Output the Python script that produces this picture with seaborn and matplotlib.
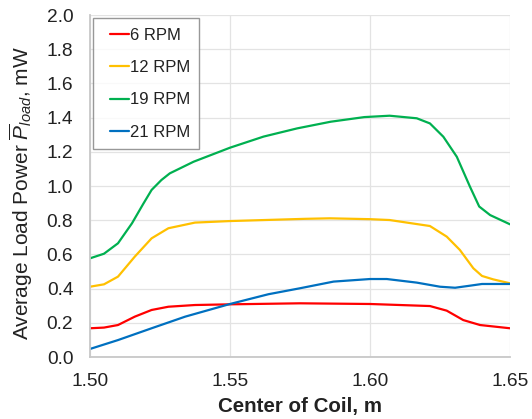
import matplotlib
matplotlib.use("Agg")
import numpy as np
import matplotlib.pyplot as plt
from matplotlib.legend_handler import HandlerLine2D
import seaborn as sns
import pandas as pd

# ---- data ----
x_6 = [1.500, 1.505, 1.510, 1.516, 1.522, 1.528, 1.5375, 1.550, 1.575, 1.600,
       1.6214, 1.6274, 1.6333, 1.6393, 1.650]
y_6 = [0.168, 0.172, 0.187, 0.236, 0.275, 0.294, 0.304, 0.308, 0.314, 0.310,
       0.298, 0.271, 0.216, 0.187, 0.168]

x_12 = [1.500, 1.505, 1.510, 1.516, 1.522, 1.528, 1.5375, 1.550, 1.5768, 1.5857,
        1.600, 1.607, 1.6214, 1.6274, 1.6321, 1.6369, 1.640, 1.644, 1.650]
y_12 = [0.411, 0.425, 0.470, 0.587, 0.694, 0.753, 0.786, 0.795, 0.808, 0.811,
        0.806, 0.801, 0.766, 0.704, 0.626, 0.519, 0.474, 0.454, 0.431]

x_19 = [1.500, 1.505, 1.510, 1.515, 1.519, 1.522, 1.5255, 1.5285, 1.537, 1.550,
        1.562, 1.574, 1.586, 1.598, 1.607, 1.6167, 1.6214, 1.6262, 1.631,
        1.6357, 1.639, 1.6429, 1.650]
y_19 = [0.577, 0.604, 0.665, 0.782, 0.895, 0.977, 1.035, 1.074, 1.142, 1.224,
        1.289, 1.337, 1.376, 1.403, 1.411, 1.396, 1.366, 1.288, 1.171,
        0.996, 0.880, 0.830, 0.776]

x_21 = [1.500, 1.510, 1.522, 1.534, 1.550, 1.5637, 1.575, 1.587, 1.600, 1.606,
        1.6167, 1.625, 1.6304, 1.6357, 1.640, 1.650]
y_21 = [0.047, 0.099, 0.168, 0.236, 0.310, 0.367, 0.402, 0.441, 0.456, 0.456,
        0.435, 0.411, 0.405, 0.417, 0.427, 0.427]

series_labels = ["6 RPM", "12 RPM", "19 RPM", "21 RPM"]
series_colors = ["#FF0000", "#FFC000", "#00B050", "#0070C0"]
x_ticks = [1.50, 1.55, 1.60, 1.65]
y_ticks = [0.0, 0.2, 0.4, 0.6, 0.8, 1.0, 1.2, 1.4, 1.6, 1.8, 2.0]

frames = []
for lab, xs, ys in zip(series_labels, [x_6, x_12, x_19, x_21], [y_6, y_12, y_19, y_21]):
    frames.append(pd.DataFrame({"x": xs, "y": ys, "series": lab}))
df = pd.concat(frames, ignore_index=True)


class InsetLineHandler(HandlerLine2D):
    """Legend line that starts a little inside the handle box."""
    def __init__(self, inset=0.45, **kw):
        super().__init__(**kw)
        self._inset = inset

    def get_xdata(self, legend, xdescent, ydescent, width, height, fontsize):
        off = self._inset * fontsize
        return np.array([-xdescent + off, -xdescent + width]), np.array([-xdescent + off, -xdescent + width])


sns.set_style("white")
plt.rcParams["font.family"] = ["Liberation Sans", "DejaVu Sans"]
plt.rcParams["mathtext.fontset"] = "custom"
plt.rcParams["mathtext.rm"] = "Liberation Sans"
plt.rcParams["mathtext.it"] = "Liberation Sans:italic"
plt.rcParams["mathtext.bf"] = "Liberation Sans:bold"

fig = plt.figure(figsize=(5.32, 4.19), dpi=100)
ax = fig.add_axes([90 / 532, (419 - 357) / 419, 420 / 532, 342 / 419])

sns.lineplot(data=df, x="x", y="y", hue="series", hue_order=series_labels,
             palette=dict(zip(series_labels, series_colors)),
             estimator=None, sort=True, linewidth=1.6, ax=ax)

ax.set_xlim(1.50, 1.65)
ax.set_ylim(0.0, 2.0)
ax.set_xticks(x_ticks)
ax.set_xticklabels([f"{v:.2f}" for v in x_ticks])
ax.set_yticks(y_ticks)
ax.set_yticklabels([f"{v:.1f}" for v in y_ticks])
ax.tick_params(axis="both", labelsize=13.8, colors="#C8C8C8", labelcolor="#222222",
               length=5, width=1, direction="out")
ax.tick_params(axis="y", pad=7)
ax.tick_params(axis="x", pad=6.5)
ax.grid(True, color="#E3E3E3", linewidth=0.9)
for s in ["top", "right"]:
    ax.spines[s].set_visible(False)
for s in ["left", "bottom"]:
    ax.spines[s].set_color("#C8C8C8")
    ax.spines[s].set_linewidth(1.3)

ax.set_xlabel("Center of Coil, m", fontsize=14.8, fontweight="bold", color="#222222", labelpad=5)
ax.set_ylabel(r"Average Load Power $\overline{P}_{load}$, mW", fontsize=15,
              color="#222222")
ax.yaxis.set_label_coords(-0.131, 0.478)

handles, labels = ax.get_legend_handles_labels()
leg = ax.legend(handles, labels, loc="upper left", bbox_to_anchor=(0.0, 1.0), fontsize=12,
                frameon=True, fancybox=False, handlelength=1.6, handletextpad=0.05,
                labelspacing=1.05, borderpad=0.55, borderaxespad=0.2,
                handler_map={h: InsetLineHandler(inset=0.45) for h in handles})
leg.get_frame().set_edgecolor("#7F7F7F")
leg.get_frame().set_linewidth(1.0)
for t in leg.get_texts():
    t.set_color("#222222")

fig.savefig("out.png", dpi=100)
